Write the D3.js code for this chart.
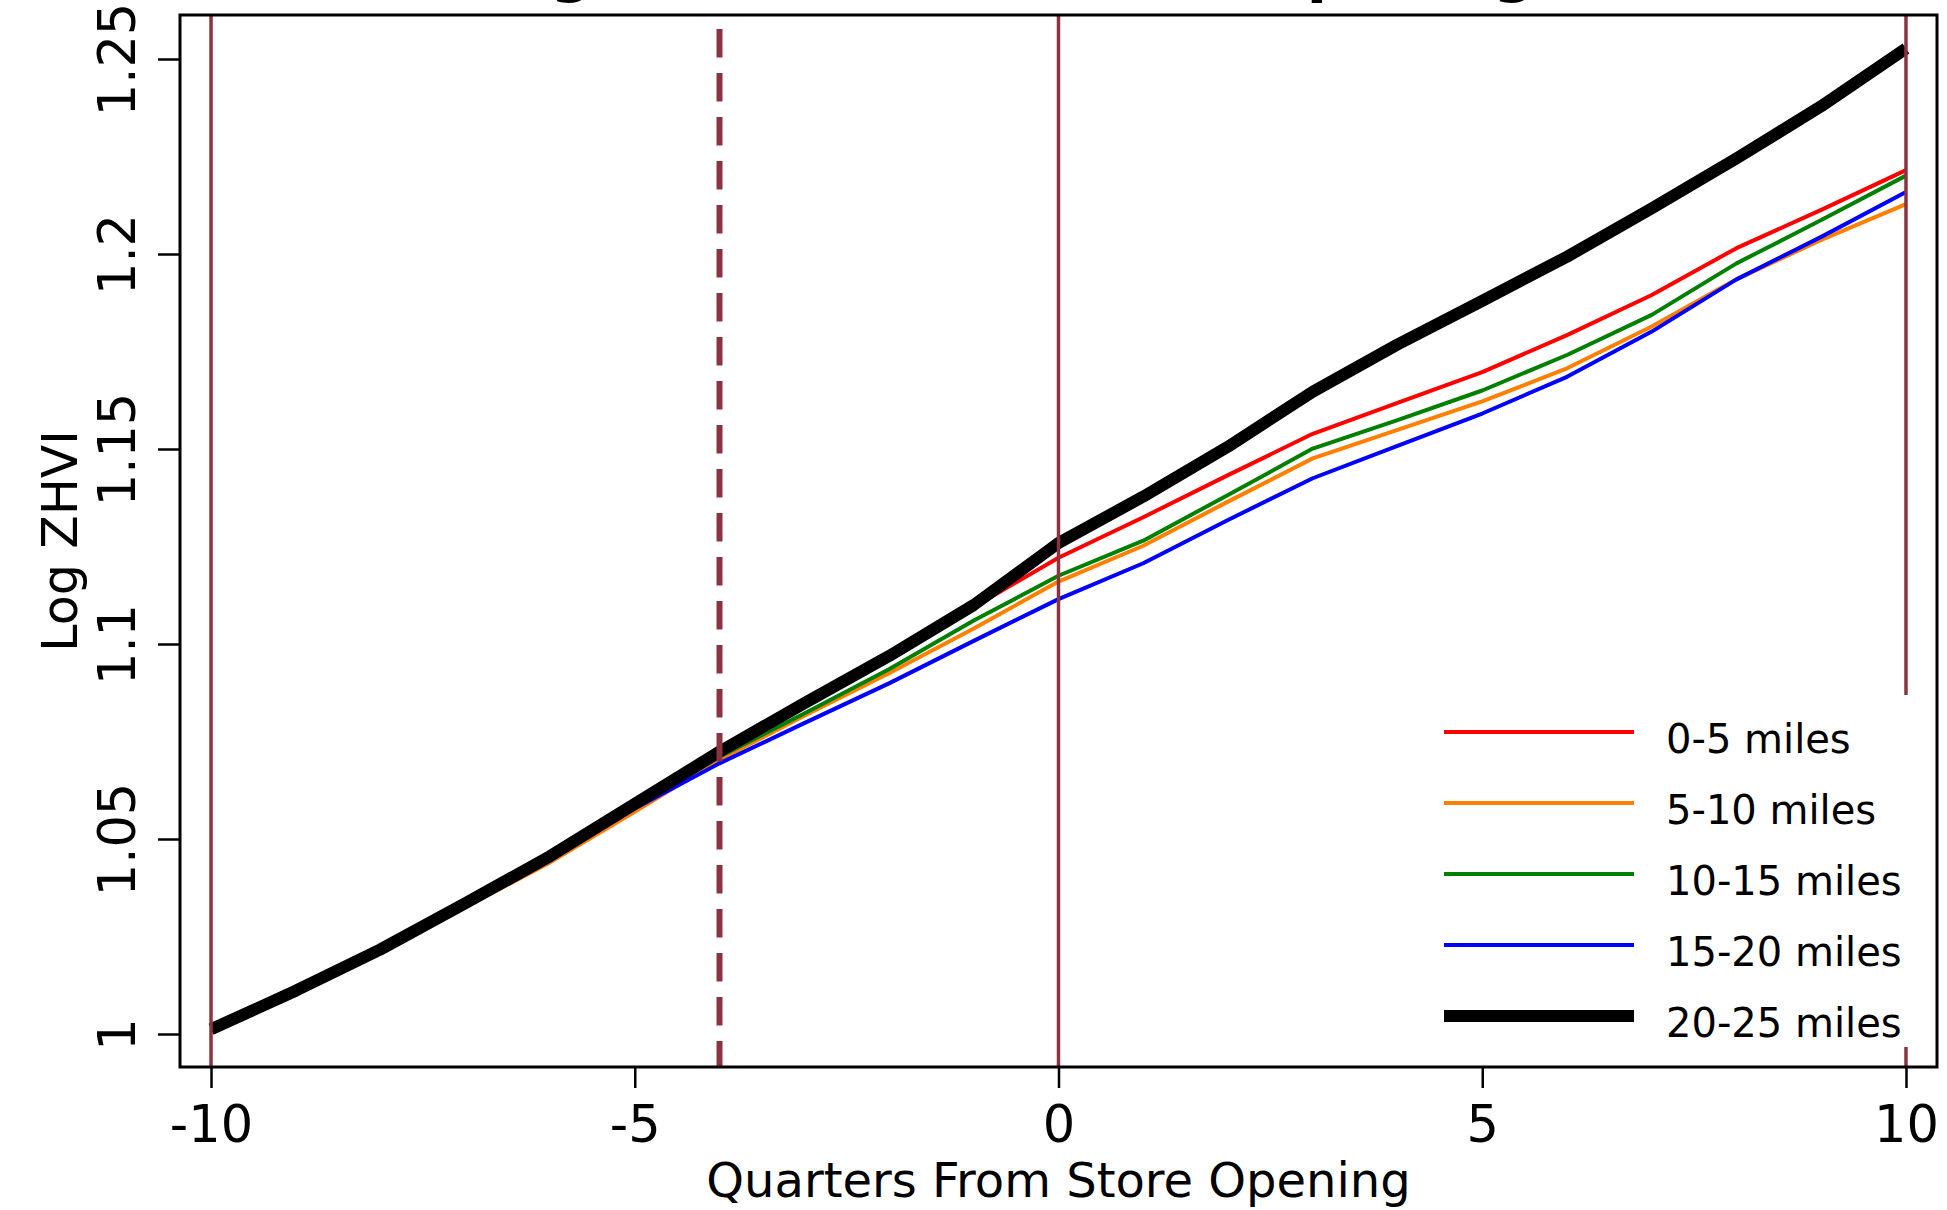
<!DOCTYPE html>
<html>
<head>
<meta charset="utf-8">
<script src="https://cdn.jsdelivr.net/npm/d3@7/dist/d3.min.js"></script>
<style>
  html, body { margin: 0; padding: 0; background: #fff; }
  svg { display: block; }
  text { font-family: "DejaVu Sans", "Liberation Sans", sans-serif; fill: #000; }
</style>
</head>
<body>
<svg id="chart" width="1947" height="1210"></svg>
<script>
// Quarters relative to the store opening (x values)
const quarters = [-10, -9, -8, -7, -6, -5, -4, -3, -2, -1, 0, 1, 2, 3, 4, 5, 6, 7, 8, 9, 10];

// Log ZHVI by distance band
const miles0to5   = [1.0014, 1.0112, 1.0221, 1.0333, 1.0452, 1.0585, 1.0718, 1.0840, 1.0965, 1.1095, 1.1221,
                     1.1325, 1.1433, 1.1539, 1.1618, 1.1697, 1.1792, 1.1895, 1.2015, 1.2113, 1.2215];
const miles5to10  = [1.0012, 1.0108, 1.0213, 1.0325, 1.0440, 1.0570, 1.0703, 1.0816, 1.0925, 1.1040, 1.1160,
                     1.1252, 1.1365, 1.1476, 1.1549, 1.1622, 1.1707, 1.1814, 1.1935, 1.2036, 1.2128];
const miles10to15 = [1.0010, 1.0105, 1.0210, 1.0328, 1.0449, 1.0580, 1.0711, 1.0822, 1.0935, 1.1060, 1.1175,
                     1.1265, 1.1382, 1.1501, 1.1574, 1.1650, 1.1741, 1.1844, 1.1976, 1.2087, 1.2201];
const miles15to20 = [1.0012, 1.0108, 1.0214, 1.0330, 1.0448, 1.0578, 1.0694, 1.0797, 1.0899, 1.1008, 1.1115,
                     1.1207, 1.1318, 1.1425, 1.1508, 1.1591, 1.1685, 1.1801, 1.1935, 1.2044, 1.2159];
const miles20to25 = [1.0012, 1.0111, 1.0217, 1.0335, 1.0456, 1.0590, 1.0724, 1.0848, 1.0969, 1.1100, 1.1259,
                     1.1378, 1.1506, 1.1647, 1.1768, 1.1880, 1.1993, 1.2117, 1.2245, 1.2379, 1.2527];

const seriesLabels = ["0-5 miles", "5-10 miles", "10-15 miles", "15-20 miles", "20-25 miles"];
const seriesValues = [miles0to5, miles5to10, miles10to15, miles15to20, miles20to25];

// Axis ticks
const xTicks = [-10, -5, 0, 5, 10];
const yTicks = [1, 1.05, 1.1, 1.15, 1.2, 1.25];
const yTickLabels = ["1", "1.05", "1.1", "1.15", "1.2", "1.25"];

// Reference lines (quarters)
const solidRefLines = [-10, 0, 10];
const dashedRefLines = [-4];

// Styling
const seriesColors = ["#ff0000", "#ff7f00", "#008000", "#0000ff", "#000000"];
const seriesWidths = [4, 4, 4, 4, 12];
const refColor = "#8a3441";

const titleText = "Log ZHVI Around Store Opening";

// ---- layout ----
const W = 1947;
const plot = { left: 180, right: 1937, top: 15, bottom: 1067 };

const x = d3.scaleLinear().domain([-10.366, 10.366]).range([plot.left, plot.right]);
const y = d3.scaleLinear().domain([0.991538, 1.261282]).range([plot.bottom, plot.top]);

const svg = d3.select("#chart");
svg.append("rect").attr("width", W).attr("height", 1210).attr("fill", "#fff");

// Title (sits at the very top edge, mostly above the page)
svg.append("text")
  .attr("x", 1004)
  .attr("y", -9)
  .attr("text-anchor", "middle")
  .style("font-size", "59px")
  .style("font-weight", "bold")
  .text(titleText);

// Data lines
const line = d3.line()
  .x((d, i) => x(quarters[i]))
  .y(d => y(d));

svg.append("g").attr("class", "series")
  .selectAll("path")
  .data(seriesValues)
  .join("path")
  .attr("d", d => line(d))
  .attr("fill", "none")
  .attr("stroke", (d, i) => seriesColors[i])
  .attr("stroke-width", (d, i) => seriesWidths[i])
  .attr("stroke-linejoin", "round");

// Vertical reference lines
const refs = svg.append("g").attr("class", "refs");
refs.selectAll("line.solid")
  .data(solidRefLines)
  .join("line")
  .attr("class", "solid")
  .attr("x1", d => x(d)).attr("x2", d => x(d))
  .attr("y1", plot.top).attr("y2", plot.bottom)
  .attr("stroke", refColor)
  .attr("stroke-width", 3.5);

refs.selectAll("line.dashed")
  .data(dashedRefLines)
  .join("line")
  .attr("class", "dashed")
  .attr("x1", d => x(d)).attr("x2", d => x(d))
  .attr("y1", plot.top + 14).attr("y2", plot.bottom)
  .attr("stroke", refColor)
  .attr("stroke-width", 6)
  .attr("stroke-dasharray", "28.5 15.5");

// Legend (white box inside the plot region)
const legend = svg.append("g").attr("class", "legend");
legend.append("rect")
  .attr("x", 1420).attr("y", 695)
  .attr("width", plot.right - 1.5 - 1420).attr("height", 352)
  .attr("fill", "#fff");

const legendTop = 732, legendGap = 71;
const item = legend.selectAll("g.item")
  .data(seriesLabels)
  .join("g")
  .attr("class", "item")
  .attr("transform", (d, i) => `translate(0,${legendTop + i * legendGap})`);
item.append("line")
  .attr("x1", 1444).attr("x2", 1634)
  .attr("y1", 0).attr("y2", 0)
  .attr("stroke", (d, i) => seriesColors[i])
  .attr("stroke-width", (d, i) => seriesWidths[i]);
item.append("text")
  .attr("x", 1666).attr("y", 21)
  .style("font-size", "40px")
  .text(d => d);

// Frame
svg.append("rect")
  .attr("x", plot.left).attr("y", plot.top)
  .attr("width", plot.right - plot.left).attr("height", plot.bottom - plot.top)
  .attr("fill", "none")
  .attr("stroke", "#000")
  .attr("stroke-width", 3);

// Y axis
const yAxis = svg.append("g")
  .attr("transform", `translate(${plot.left},0)`)
  .call(d3.axisLeft(y).tickValues(yTicks).tickSize(22).tickFormat(""));
yAxis.select(".domain").remove();
yAxis.selectAll(".tick line").attr("stroke", "#000").attr("stroke-width", 2.5);
yAxis.selectAll(".tick").append("text")
  .attr("transform", "translate(-45,0) rotate(-90)")
  .attr("text-anchor", "middle")
  .attr("fill", "#000")
  .style("font-size", "51px")
  .text((d, i) => yTickLabels[i]);

// X axis
const xAxis = svg.append("g")
  .attr("transform", `translate(0,${plot.bottom})`)
  .call(d3.axisBottom(x).tickValues(xTicks).tickSize(21).tickFormat(""));
xAxis.select(".domain").remove();
xAxis.selectAll(".tick line").attr("stroke", "#000").attr("stroke-width", 2.5);
xAxis.selectAll(".tick").append("text")
  .attr("y", 75)
  .attr("text-anchor", "middle")
  .attr("fill", "#000")
  .style("font-size", "51px")
  .text(d => d);

// Axis titles
svg.append("text")
  .attr("x", x(0)).attr("y", 1197)
  .attr("text-anchor", "middle")
  .style("font-size", "48px")
  .text("Quarters From Store Opening");

svg.append("text")
  .attr("transform", `translate(77,${(plot.top + plot.bottom) / 2}) rotate(-90)`)
  .attr("text-anchor", "middle")
  .style("font-size", "49px")
  .text("Log ZHVI");
</script>
</body>
</html>
